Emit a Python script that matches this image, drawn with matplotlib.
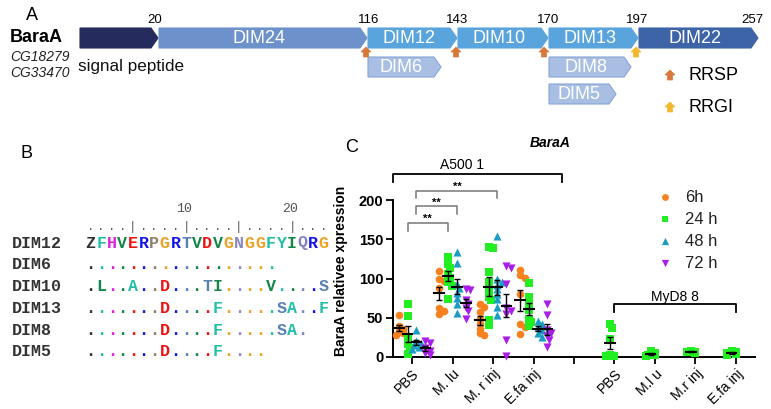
import matplotlib
matplotlib.use("Agg")
import matplotlib.pyplot as plt
from matplotlib.patches import Polygon
import numpy as np

plt.rcParams['font.family'] = ['Liberation Sans', 'DejaVu Sans']

# ---------------- data ----------------
# Panel A: domain architecture
domain_names = ["", "DIM24", "DIM12", "DIM10", "DIM13", "DIM22"]
boundaries = ["20", "116", "143", "170", "197", "257"]
sub_domains = ["DIM6", "DIM8", "DIM5"]
gene_names = ["BaraA", "CG18279", "CG33470"]
site_labels = ["RRSP", "RRGI"]

# Panel B: alignment
seq_names = ["DIM12", "DIM6", "DIM10", "DIM13", "DIM8", "DIM5"]
seq_rows = ["ZFHVERPGRTVDVGNGGFYIQRG",
            "..................",
            ".L..A..D...TI....V....S",
            ".......D....F.....SA..F",
            ".......D....F.....SA.",
            ".......D....F...."]
ruler = "....|....|....|....|..."
ruler_nums = [10, 20]

# Panel C: qPCR
groups_a = ["PBS", "M. lu", "M. r inj", "E.fa inj"]
groups_m = ["PBS", "M.l u", "M.r inj", "E.fa inj"]
timepoints = ["6h", "24 h", "48 h", "72 h"]
a5001_6h = [[53, 40, 36, 33, 30, 28], [110, 99, 97, 88, 62, 58, 55],
            [68, 64, 57, 48, 42, 36, 30, 28], [111, 104, 101, 80, 42, 38, 29]]
a5001_24h = [[67, 52, 23, 16, 11, 4], [127, 119, 114, 106, 101, 95, 91, 74],
             [140, 139, 108, 96, 86, 77, 72, 47, 41], [94, 77, 67, 60, 49, 44, 39]]
a5001_48h = [[35, 20, 18, 15, 13, 10], [134, 120, 93, 88, 82, 75, 68, 56],
             [154, 100, 96, 92, 86, 80, 74, 64, 53], [46, 42, 38, 35, 30, 26]]
a5001_72h = [[21, 18, 12, 8, 5, 2], [87, 85, 73, 68, 63, 58, 48],
             [116, 114, 93, 62, 58, 55, 22, 1], [67, 53, 34, 30, 27, 22, 13]]
myd88_24h = [[42, 37, 23, 2, 1, 1], [8, 5, 3, 2, 1], [8, 7, 6, 5], [8, 6, 5, 4, 3]]

# ---------------- figure ----------------
W, H = 771, 409
fig = plt.figure(figsize=(W / 100, H / 100), dpi=100)
ax0 = fig.add_axes([0, 0, 1, 1])
ax0.set_xlim(0, W)
ax0.set_ylim(H, 0)
ax0.axis('off')

# ---------- Panel A ----------
ax0.text(32, 15, "A", fontsize=13, ha='center', va='center')
ax0.text(10, 37, gene_names[0], fontsize=13, fontweight='bold', ha='left', va='center')
ax0.text(10, 57, gene_names[1], fontsize=10, style='italic', ha='left', va='center', color='#222222')
ax0.text(10, 73, gene_names[2], fontsize=10, style='italic', ha='left', va='center', color='#222222')
ax0.text(78, 66, "signal peptide", fontsize=12.3, ha='left', va='center', color='#111111')


def block_arrow(x0, x1, yc, h=20, tip=7, fc='b', ec=None, label="", fs=13):
    y0, y1 = yc - h / 2, yc + h / 2
    pts = [(x0, y0), (x1 - tip, y0), (x1, yc), (x1 - tip, y1), (x0, y1)]
    ax0.add_patch(Polygon(pts, closed=True, fc=fc, ec=ec if ec else fc, lw=0.8))
    if label:
        ax0.text((x0 + x1 - tip) / 2, yc + 0.5, label, color='white', fontsize=fs,
                 ha='center', va='center')


main_x = [(80, 158), (159, 367), (368, 457), (458, 548), (549, 638), (639, 758)]
main_cols = ['#262b5e', '#6d91ca', '#5aa4de', '#5aa4de', '#5aa4de', '#3e64a8']
for (x0, x1), c, n in zip(main_x, main_cols, domain_names):
    block_arrow(x0, x1, 38, fc=c, label=n)

sub_x = [(368, 441, 67), (549, 631, 67), (549, 616, 94)]
for (x0, x1, yc), n in zip(sub_x, sub_domains):
    block_arrow(x0, x1, yc, fc='#a8bfe3', ec='#86a5d4', label=n)

num_x = [155, 369, 457, 548, 637, 752]
for x, b in zip(num_x, boundaries):
    ax0.text(x, 20, b, fontsize=9.5, ha='center', va='center')


def up_arrow(x, top, c):
    pts = [(x, top), (x + 5, top + 5), (x + 2.5, top + 5), (x + 2.5, top + 10),
           (x - 2.5, top + 10), (x - 2.5, top + 5), (x - 5, top + 5)]
    ax0.add_patch(Polygon(pts, closed=True, fc=c, ec=c, lw=0.5))


RRSP_C, RRGI_C = '#d8783a', '#f3b82a'
for x in [366, 456, 544]:
    up_arrow(x, 47, RRSP_C)
up_arrow(636, 47, RRGI_C)
up_arrow(670, 70, RRSP_C)
up_arrow(670, 102, RRGI_C)
ax0.text(688, 75, site_labels[0], fontsize=13, ha='left', va='center')
ax0.text(688, 107, site_labels[1], fontsize=13, ha='left', va='center')

# ---------- Panel B ----------
ax0.text(27, 153, "B", fontsize=13, ha='center', va='center')
aa_col = {'Z': '#333333', 'F': '#22bfa6', 'H': '#e020e0', 'V': '#14864a', 'E': '#ee1414',
          'R': '#1414ee', 'P': '#8a8070', 'G': '#f0a020', 'T': '#5a80b4', 'D': '#ee1414',
          'N': '#8888c4', 'Y': '#22bfa6', 'I': '#14864a', 'Q': '#8080c4', 'L': '#14864a',
          'A': '#22bfa6', 'S': '#5a80b4'}
x_start, dx = 90.6, 10.6
row_y0, row_dy = 243, 21.8
mono = ['Liberation Mono', 'DejaVu Sans Mono']
for i, ch in enumerate(ruler):
    ax0.text(x_start + i * dx, 227, ch if ch == '|' else '.', family=mono, fontsize=9,
             color='#555555', ha='center', va='center')
for n in ruler_nums:
    ax0.text(x_start + (n - 1) * dx - 1.5, 209, str(n), family=mono, fontsize=9.5,
             color='#555555', ha='center', va='center')
ref = seq_rows[0]
for r, (name, s) in enumerate(zip(seq_names, seq_rows)):
    y = row_y0 + r * row_dy
    ax0.text(12, y, name, family=mono, fontsize=12, fontweight='bold', color='#333333',
             ha='left', va='center')
    for i, ch in enumerate(s):
        col = aa_col.get(ch if ch != '.' else ref[i], '#333333')
        ax0.text(x_start + i * dx, y, ch, family=mono, fontsize=12, fontweight='bold',
                 color=col, ha='center', va='center')

# ---------- Panel C ----------
L, R, B, T = 393, 755, 357, 200
axC = fig.add_axes([L / W, 1 - B / H, (R - L) / W, (B - T) / H])
axC.patch.set_alpha(0)
axC.set_ylim(0, 200)
axC.set_xlim(-0.47, 8.47)
for s in ['top', 'right']:
    axC.spines[s].set_visible(False)
for s in ['left', 'bottom']:
    axC.spines[s].set_linewidth(1.4)
axC.set_yticks([0, 50, 100, 150, 200])
axC.set_yticklabels(["0", "50", "100", "150", "200"], fontweight='bold', fontsize=10.5)
axC.set_xticks(range(9))
axC.set_xticklabels(groups_a + [""] + groups_m, rotation=45, ha='right',
                    rotation_mode='anchor', fontsize=10)
axC.tick_params(axis='both', length=5, width=1.3, pad=2)
axC.set_ylabel("BaraA relativee xpression", fontweight='bold', fontsize=10)
axC.yaxis.set_label_coords(-0.124, 0.55)
ax0.text(550, 143, "BaraA", fontweight='bold', style='italic', fontsize=10, ha='center', va='center')

px_x = (R - L) / (8.47 + 0.47)
px_y = (B - T) / 200.0


def swarm(vals, step=2.2, mind=4.2, maxoff=6.5):
    order = np.argsort(vals)[::-1]
    placed = []
    offs = np.zeros(len(vals))
    for idx in order:
        yv = vals[idx] * px_y
        cands = [0.0]
        for j in range(1, 20):
            cands += [j * step, -j * step]
        cands = [c for c in cands if abs(c) <= maxoff]
        best = None
        for c in cands:
            if all((c - px) ** 2 + (yv - py) ** 2 >= mind ** 2 for px, py in placed):
                best = c
                break
        if best is None:
            best = cands[len(placed) % len(cands)]
        placed.append((best, yv))
        offs[idx] = best / px_x
    return offs


series = [(a5001_6h, '#f7811e', 'o', 30), (a5001_24h, '#22ee22', 's', 30),
          (a5001_48h, '#1b9cc4', '^', 34), (a5001_72h, '#a81ee8', 'v', 34)]
toffs = [-0.33, -0.11, 0.11, 0.33]


def draw_group(xc, vals, col, mk, sz):
    v = np.array(vals, float)
    xo = swarm(v)
    axC.scatter(xc + xo, v, c=col, marker=mk, s=sz, lw=0, zorder=3, clip_on=False)
    m = v.mean()
    sem = v.std(ddof=1) / np.sqrt(len(v))
    axC.errorbar([xc], [m], yerr=[sem], fmt='none', ecolor='black', elinewidth=1.0,
                 capsize=2.2, capthick=1.0, zorder=4)
    axC.plot([xc - 0.12, xc + 0.12], [m, m], color='black', lw=1.5, zorder=4)


for (data, col, mk, sz), to in zip(series, toffs):
    for gi, vals in enumerate(data):
        draw_group(gi + to, vals, col, mk, sz)
for gi, vals in enumerate(myd88_24h):
    draw_group(5 + gi - 0.11, vals, '#22ee22', 's', 30)

# legend
for k, ((data, col, mk, sz), lab) in enumerate(zip(series, timepoints)):
    yy = 197 + k * 22
    ax0.scatter([665], [yy], c=col, marker=mk, s=sz * 0.8, lw=0)
    ax0.text(685, yy, lab, fontsize=12, ha='left', va='center', color='#222222')


# brackets (in data coords)
def bracket(x0, x1, ytop, ybot, color, lw, label=None, lx=None, ly=None, fs=8, fw='normal'):
    axC.plot([x0, x0, x1, x1], [ybot, ytop, ytop, ybot], color=color, lw=lw, clip_on=False)
    if label:
        axC.text(lx if lx is not None else (x0 + x1) / 2, ly, label, ha='center',
                 va='center', fontsize=fs, fontweight=fw, clip_on=False)


bracket(-0.47, 3.7, 233, 223, 'black', 1.3, "A500 1", 1.24, 244, fs=10)
bracket(5.0, 8.0, 67.5, 57, 'black', 1.3, "MyD8 8", None, 77, fs=10)
bracket(-0.11, 0.89, 170.7, 160.5, '#777777', 1.1, "**", None, 175.5, fs=8, fw='bold')
bracket(0.11, 1.11, 192, 182, '#777777', 1.1, "**", None, 197, fs=8, fw='bold')
bracket(0.11, 2.11, 211, 202.5, '#777777', 1.1, "**", None, 217, fs=8, fw='bold')

ax0.text(352, 148, "C", fontsize=13, ha='center', va='center')

fig.savefig("out.png", dpi=100)
